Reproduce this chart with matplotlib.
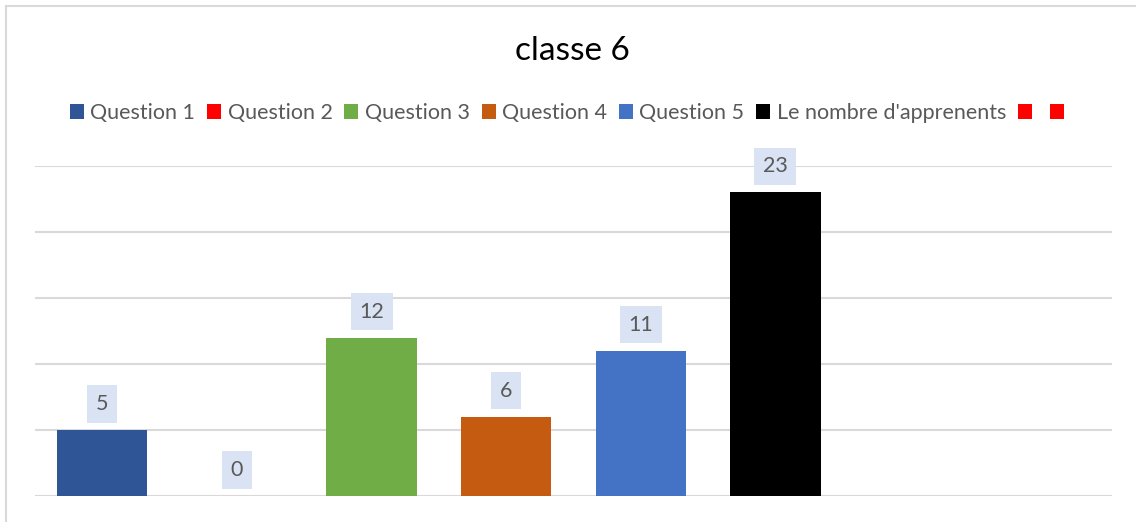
import matplotlib
matplotlib.use("Agg")
import matplotlib.pyplot as plt
from matplotlib.patches import Patch
import numpy as np

# Données
series = ["Question 1", "Question 2", "Question 3", "Question 4", "Question 5",
          "Le nombre d'apprenents", "", ""]
values = [5, 0, 12, 6, 11, 23, None, None]
colors = ["#2F5597", "#FF0000", "#70AD47", "#C55A11", "#4472C4", "#000000",
          "#FF0000", "#FF0000"]

plt.rcParams["font.family"] = ["Lato", "DejaVu Sans"]

fig = plt.figure(figsize=(11.36, 5.22), dpi=100)
ax = fig.add_axes([35 / 1136, 1 - 496 / 522, (1112 - 35) / 1136, (496 - 166) / 522])

x = np.arange(len(series))
for i, (v, c) in enumerate(zip(values, colors)):
    if v is None:
        continue
    ax.bar(x[i], v, width=0.67, color=c, zorder=3)
    ax.annotate(str(v), (x[i], v), xytext=(0, 11.5), textcoords="offset points",
                ha="center", va="bottom", fontsize=15.5, color="#595959", zorder=4,
                bbox=dict(boxstyle="square,pad=0.4", fc="#DAE3F3", ec="none"))

ax.set_xlim(-0.5, len(series) - 0.5)
ax.set_ylim(0, 25)
ax.set_yticks(np.arange(0, 26, 5))
ax.yaxis.grid(True, color="#D9D9D9", linewidth=1.5, zorder=0)
ax.tick_params(left=False, bottom=False, labelleft=False, labelbottom=False)
for s in ax.spines.values():
    s.set_visible(False)

fig.text(0.504, 1 - 51 / 522, "classe 6", ha="center", va="center",
         fontsize=24, color="#000000")

handles = [Patch(facecolor=c, edgecolor="none") for c in colors]
fig.legend(handles, series, loc="center", bbox_to_anchor=(0.502, 1 - 113 / 522),
           ncol=len(series), frameon=False, fontsize=15.5, labelcolor="#595959",
           handlelength=0.65, handleheight=0.65, handletextpad=0.3, columnspacing=0.55)

# cadre gris clair du graphique
fig.add_artist(plt.Line2D([5.5 / 1136, 5.5 / 1136], [0, 1 - 5.5 / 522],
                          transform=fig.transFigure, color="#D9D9D9", linewidth=1.5))
fig.add_artist(plt.Line2D([5.5 / 1136, 1], [1 - 5.5 / 522, 1 - 5.5 / 522],
                          transform=fig.transFigure, color="#D9D9D9", linewidth=1.5))

fig.savefig("out.png", dpi=100)
